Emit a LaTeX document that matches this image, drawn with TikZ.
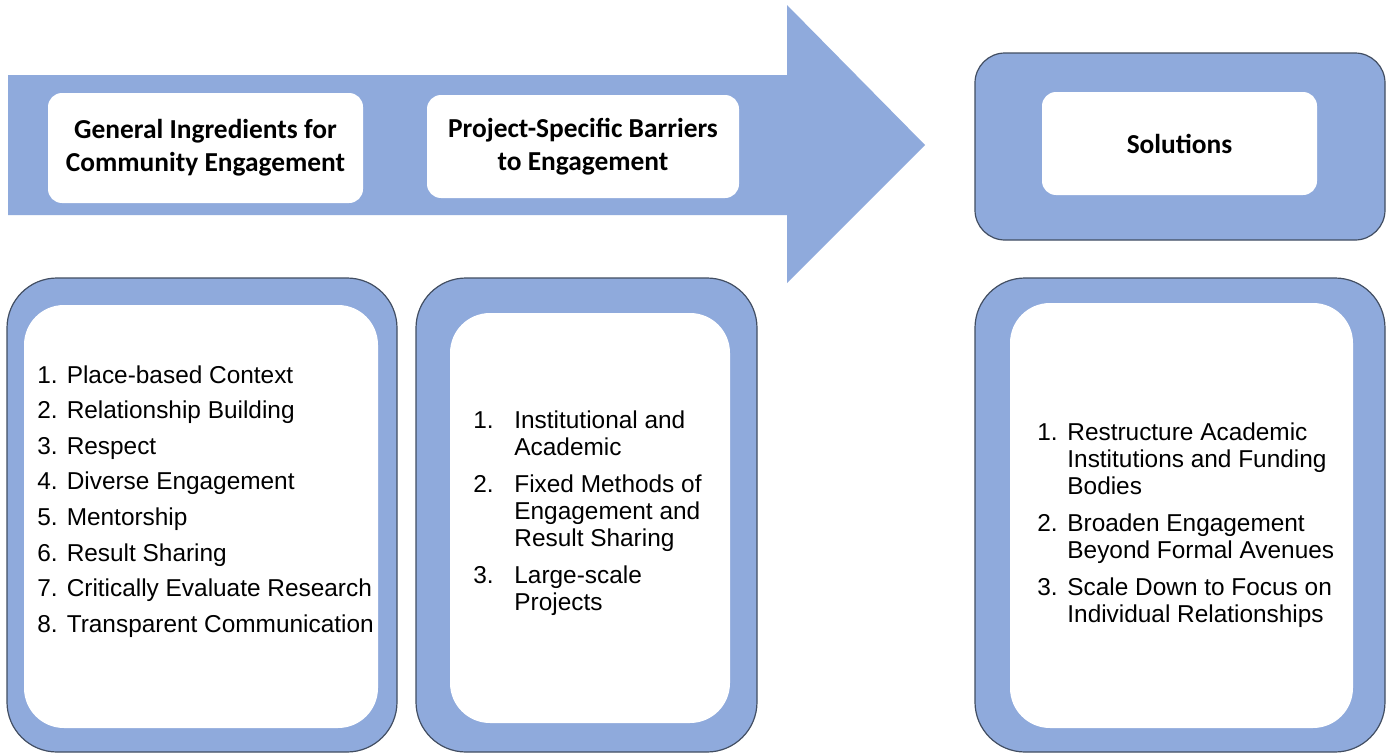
\documentclass[tikz,border=0pt]{standalone}
\usepackage{fontspec}
\setmainfont{Liberation Sans}
\newfontfamily\headfont{Carlito}
\usepackage{xcolor}
\usepackage{tikz}
\usetikzlibrary{positioning}

\definecolor{panelblue}{RGB}{143,170,220}
\definecolor{edgegray}{RGB}{66,78,98}

\begin{document}
\begin{tikzpicture}[x=0.5pt, y=-0.5pt,
  outer/.style={rectangle, draw=edgegray, line width=0.6pt, fill=panelblue,
                rounded corners=25pt, inner sep=0pt},
  inner/.style={rectangle, fill=white, rounded corners=20pt, inner sep=0pt},
  head/.style={rectangle, fill=white, rounded corners=7pt, inner sep=0pt,
               align=center, text=black,
               font=\headfont\bfseries\fontsize{13.7}{16.5}\selectfont},
  lst/.style={anchor=base west, inner sep=0pt, text=black,
              font=\fontsize{12.2}{13.5}\selectfont}
]
\useasboundingbox (0,0) rectangle (1388,755);
\fill[white] (0,0) rectangle (1388,755);

% big arrow behind the first two headings
\fill[panelblue] (8,75) -- (787,75) -- (787,5) -- (925,145)
  -- (787,283) -- (787,215) -- (8,215) -- cycle;

\node[head, minimum width=157.5pt, minimum height=55pt] (ingrhead) at (205.5,148)
  {General Ingredients for\\Community Engagement};
\node[head, minimum width=156pt, minimum height=51.5pt] (barrhead) at (583,146.5)
  {Project-Specific Barriers\\to Engagement};

% solutions heading
\node[outer, rounded corners=15pt, minimum width=205pt, minimum height=93.5pt]
  (solbox) at (1180,146.5) {};
\node[head, minimum width=137.5pt, minimum height=51.5pt] (solhead) at (1179.5,143.5)
  {Solutions};

% lower panels
\node[outer, minimum width=195pt, minimum height=237pt] (ingrbox) at (202,515) {};
\node[inner, minimum width=177pt, minimum height=211.5pt] (ingrpage) at (201,516.5) {};

\node[outer, minimum width=170.5pt, minimum height=237pt] (barrbox) at (586.5,515) {};
\node[inner, minimum width=140pt, minimum height=205pt] (barrpage) at (590,518) {};

\node[outer, minimum width=205pt, minimum height=237pt] (solsbox) at (1180,515) {};
\node[inner, minimum width=171.5pt, minimum height=212.5pt] (solspage) at (1181.5,515.5) {};

% list texts
\node[lst, font=\fontsize{12.2}{17.8}\selectfont] (ingrlist) at (37,383) {%
  \begin{tabular}[t]{@{}l@{}}
  1. Place-based Context\\
  2. Relationship Building\\
  3. Respect\\
  4. Diverse Engagement\\
  5. Mentorship\\
  6. Result Sharing\\
  7. Critically Evaluate Research\\
  8. Transparent Communication
  \end{tabular}};

\node[lst] (barrlist) at (473,428) {%
  \begin{tabular}[t]{@{}p{20.5pt}@{}l@{}}
  1. & Institutional and\\
     & Academic\\[5pt]
  2. & Fixed Methods of\\
     & Engagement and\\
     & Result Sharing\\[5pt]
  3. & Large-scale\\
     & Projects
  \end{tabular}};

\node[lst] (solslist) at (1037,440) {%
  \begin{tabular}[t]{@{}p{15pt}@{}l@{}}
  1. & Restructure Academic\\
     & Institutions and Funding\\
     & Bodies\\[5pt]
  2. & Broaden Engagement\\
     & Beyond Formal Avenues\\[5pt]
  3. & Scale Down to Focus on\\
     & Individual Relationships
  \end{tabular}};
\end{tikzpicture}
\end{document}
